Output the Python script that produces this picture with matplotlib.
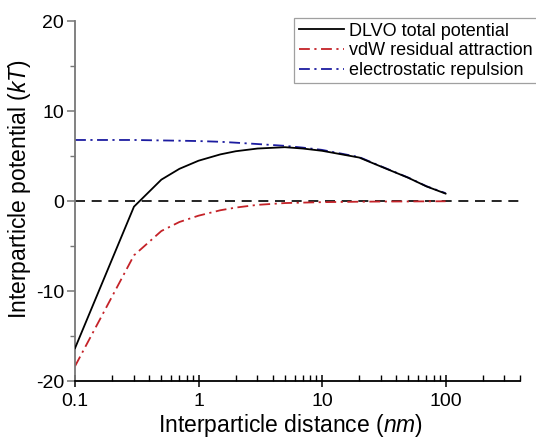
import matplotlib
matplotlib.use('Agg')
import matplotlib.pyplot as plt
from matplotlib.ticker import FixedLocator, LogLocator, NullFormatter

plt.rcParams['font.family'] = ['Liberation Sans', 'DejaVu Sans']
plt.rcParams['mathtext.fontset'] = 'custom'
plt.rcParams['mathtext.it'] = 'Liberation Sans:italic'
plt.rcParams['axes.unicode_minus'] = False

# distance (nm)
distance = [0.1, 0.3, 0.5, 0.7, 1, 1.5, 2, 3, 5, 7, 10, 20, 30, 50, 70, 100]
# potentials (kT)
dlvo_total = [-16.3, -0.6, 2.4, 3.6, 4.5, 5.2, 5.55, 5.85, 6.0, 5.85, 5.6, 4.85, 3.85, 2.6, 1.65, 0.85]
vdw_attr = [-18.3, -6.0, -3.3, -2.3, -1.6, -1.0, -0.7, -0.4, -0.2, -0.15, -0.1, -0.05, -0.03, -0.02, -0.01, 0.0]
es_repul = [6.8, 6.8, 6.75, 6.72, 6.68, 6.6, 6.5, 6.35, 6.15, 5.95, 5.7, 4.9, 3.88, 2.62, 1.67, 0.9]

fig = plt.figure(figsize=(5.36, 4.38), dpi=100)
ax = fig.add_axes([0.140, 0.129, 0.830, 0.823])

ax.axhline(0, color='black', lw=1.2, ls=(0, (6, 4)), zorder=1)
ax.plot(distance, dlvo_total, color='black', lw=1.3, label='DLVO total potential', zorder=3)
ax.plot(distance, vdw_attr, color='#c42228', lw=1.3, ls=(0, (6, 2.5, 1.2, 2.5)),
        label='vdW residual attraction', zorder=2)
ax.plot(distance, es_repul, color='#1c1ca0', lw=1.3, ls=(0, (6, 2.5, 1.2, 2.5)),
        label='electrostatic repulsion', zorder=2)

ax.set_xscale('log')
ax.set_xlim(0.1, 400)
ax.set_ylim(-20, 20)
ax.set_xticks([0.1, 1, 10, 100])
ax.set_xticklabels(['0.1', '1', '10', '100'])
ax.xaxis.set_minor_locator(LogLocator(base=10, subs=range(2, 10)))
ax.xaxis.set_minor_formatter(NullFormatter())
ax.set_yticks([-20, -10, 0, 10, 20])
ax.yaxis.set_minor_locator(FixedLocator([-15, -5, 5, 15]))

for s in ['top', 'right']:
    ax.spines[s].set_visible(False)
ax.spines['left'].set_color('#777777')
ax.spines['left'].set_linewidth(1.3)
ax.spines['bottom'].set_color('black')
ax.spines['bottom'].set_linewidth(1.3)

ax.tick_params(axis='x', which='major', direction='inout', length=8, width=1.1, labelsize=14, pad=4)
ax.tick_params(axis='x', which='minor', direction='in', length=4, width=1.0)
ax.tick_params(axis='y', which='major', direction='out', length=6, width=1.1, color='#777777',
               labelsize=14, labelcolor='black', pad=2)
ax.tick_params(axis='y', which='minor', direction='out', length=3.5, width=1.0, color='#777777')

ax.set_xlabel('Interparticle distance ($nm$)', fontsize=16.5)
ax.set_ylabel('Interparticle potential ($kT$)', fontsize=16.5)
ax.xaxis.set_label_coords(0.485, -0.085)
ax.yaxis.set_label_coords(-0.094, 0.535)

leg = ax.legend(loc='upper left', bbox_to_anchor=(294 / 536, 1 - 18 / 438),
                bbox_transform=fig.transFigure, fontsize=13, frameon=True, fancybox=False,
                edgecolor='#888888', handlelength=2.5, handletextpad=0.3,
                borderpad=0.25, labelspacing=0.15, borderaxespad=0)
leg.get_frame().set_linewidth(0.9)

fig.savefig('out.png', dpi=100, facecolor='white')
